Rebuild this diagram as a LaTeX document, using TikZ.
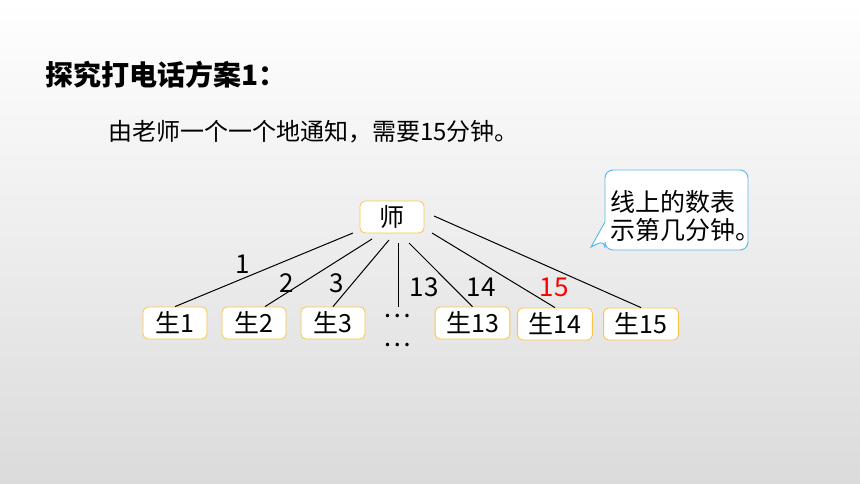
\documentclass[tikz,border=0pt]{standalone}
\usepackage{fontspec}
\setmainfont{Noto Sans CJK SC}
\definecolor{bgbot}{RGB}{219,219,219}
\definecolor{boxline}{RGB}{250,196,70}
\definecolor{tipline}{RGB}{85,185,235}
\begin{document}
\begin{tikzpicture}[x=1pt, y=-1pt,
    stu/.style={draw=boxline, fill=white, rounded corners=5pt, line width=0.8pt,
                minimum width=64pt, minimum height=32pt, inner xsep=11pt,
                font=\fontsize{25}{28}\selectfont},
    num/.style={inner sep=0pt, font=\fontsize{26}{28}\selectfont}]
        \shade[top color=white, bottom color=bgbot] (0,0) rectangle (860,484);
        \useasboundingbox (0,0) rectangle (860,484);

        \node (title) at (45,75) [anchor=west, inner sep=0pt, font=\bfseries\fontsize{28}{32}\selectfont] {探究打电话方案1：};
        \node (sub) at (108,132) [anchor=west, inner sep=0pt, font=\fontsize{24}{28}\selectfont] {由老师一个一个地通知，需要15分钟。};

        \node (t)   at (392,217)   [stu] {师};
        \node (s1)  at (175,323)   [stu] {生1};
        \node (s2)  at (254,323)   [stu] {生2};
        \node (s3)  at (333,323)   [stu] {生3};
        \node (s13) at (472.5,323) [stu] {生13};
        \node (s14) at (555,324)   [stu] {生14};
        \node (s15) at (641,324)   [stu] {生15};

        % line ends near the teacher
        \coordinate (a1)  at (353,233);
        \coordinate (a2)  at (372,239);
        \coordinate (a3)  at (389,240);
        \coordinate (a0)  at (398,243);
        \coordinate (b0)  at (398,307);
        \coordinate (a13) at (409,243);
        \coordinate (a14) at (432,233);
        \coordinate (a15) at (434,216);

        \foreach \a/\s in {a1/s1, a3/s3, a13/s13, a14/s14, a15/s15}
            \draw[line width=1pt] (\a) -- (\s.north);
        \draw[line width=1pt] (a2) -- ([xshift=11pt]s2.north);
        \draw[line width=1pt] (a0) -- (b0);

        \node (dots1) at (397,316) [num] {…};
        \node (dots2) at (397,345) [num] {…};

        \node (n1)  at (243,264) [num] {1};
        \node (n2)  at (287,283) [num] {2};
        \node (n3)  at (337,283) [num] {3};
        \node (n13) at (424,287) [num] {13};
        \node (n14) at (481,287) [num] {14};
        \node (n15) at (554,287) [num, text=red] {15};

        \draw[draw=tipline, fill=white, line width=0.9pt] (605,222) [rounded corners=8pt] -- (605,170) -- (748,170)
            -- (748,250) -- (605,250) -- (605,240) [sharp corners] -- (591,247) -- cycle;
        \node (tip) at (610,216) [anchor=west, inner sep=0pt, align=left,
            font=\fontsize{25}{28.5}\selectfont] {线上的数表\\示第几分钟。};
      \end{tikzpicture}
\end{document}
